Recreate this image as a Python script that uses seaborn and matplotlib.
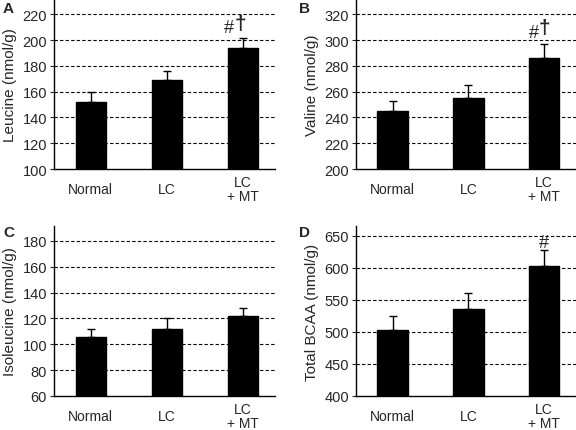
import matplotlib
matplotlib.use("Agg")
import matplotlib.pyplot as plt
import seaborn as sns
import numpy as np
import pandas as pd

sns.set_style("white")
plt.rcParams['font.family'] = ['Liberation Sans', 'DejaVu Sans']

groups = ["Normal", "LC", "LC\n+ MT"]

leucine_mean = [152, 169, 194]
leucine_err = [8, 7, 7.5]
valine_mean = [245, 255, 286]
valine_err = [8, 10, 11]
isoleucine_mean = [106, 112, 122]
isoleucine_err = [6, 8, 6]
bcaa_mean = [503, 536, 603]
bcaa_err = [21, 24, 25]

panels = [
    dict(letter="A", label="Leucine (nmol/g)", mean=leucine_mean, err=leucine_err,
         ylim=(100, 232), ticks=[100, 120, 140, 160, 180, 200, 220],
         rect=(54, 170, 221, 170), lpos=(3, 9),
         marks=[("#", 1.82, 210), ("\u2020", 1.97, 213)]),
    dict(letter="B", label="Valine (nmol/g)", mean=valine_mean, err=valine_err,
         ylim=(200, 332), ticks=[200, 220, 240, 260, 280, 300, 320],
         rect=(356, 170, 220, 170), lpos=(299, 9),
         marks=[("#", 1.86, 306), ("\u2020", 2.0, 310)]),
    dict(letter="C", label="Isoleucine (nmol/g)", mean=isoleucine_mean, err=isoleucine_err,
         ylim=(60, 191.6), ticks=[60, 80, 100, 120, 140, 160, 180],
         rect=(54, 397, 221, 170), lpos=(3, 233), marks=[]),
    dict(letter="D", label="Total BCAA (nmol/g)", mean=bcaa_mean, err=bcaa_err,
         ylim=(400, 665), ticks=[400, 450, 500, 550, 600, 650],
         rect=(356, 397, 220, 170), lpos=(299, 233), marks=[("#", 2.0, 640)]),
]

W, H = 576, 431
fig = plt.figure(figsize=(W / 100, H / 100), dpi=100)

for p in panels:
    x0, yb, w, h = p["rect"]
    ax = fig.add_axes([x0 / W, (H - yb) / H, w / W, h / H])
    df = pd.DataFrame({"group": groups, "value": p["mean"]})
    sns.barplot(data=df, x="group", y="value", color="black", width=0.4,
                errorbar=None, ax=ax, zorder=3, edgecolor="black")
    xs = np.arange(len(groups))
    ax.errorbar(xs, p["mean"], yerr=[np.zeros(len(xs)), p["err"]], fmt="none",
                ecolor="black", elinewidth=1.0, capsize=3, capthick=1.0, zorder=4)
    ax.set_ylim(*p["ylim"])
    ax.set_xlim(-0.483, 2.42)
    ax.set_yticks(p["ticks"])
    for t in p["ticks"][1:]:
        ax.axhline(t, color="black", linestyle=(0, (3, 2)), linewidth=0.8, zorder=1)
    for s in ["top", "right"]:
        ax.spines[s].set_visible(False)
    for s in ["left", "bottom"]:
        ax.spines[s].set_color("black")
        ax.spines[s].set_linewidth(1.0)
    ax.tick_params(axis="y", left=True, length=3, width=0.8, labelsize=10.5, pad=2)
    ax.tick_params(axis="x", bottom=False, length=0, labelsize=10, pad=14.4)
    for lab in ax.get_xticklabels():
        lab.set_va("center")
        lab.set_linespacing(0.95)
    ax.set_xlabel("")
    ax.set_ylabel(p["label"], fontsize=11, labelpad=4)
    for txt, xx, yy in p["marks"]:
        if txt == "#":
            ax.text(xx, yy, txt, ha="center", va="center", fontsize=13, zorder=5)
        else:
            ax.text(xx, yy, txt, ha="center", va="center", fontsize=15,
                    fontweight="bold", zorder=5)
    lx, ly = p["lpos"]
    fig.text(lx / W, 1 - ly / H, p["letter"], fontsize=11, fontweight="bold",
             ha="left", va="center")

fig.savefig("out.png", dpi=100)
